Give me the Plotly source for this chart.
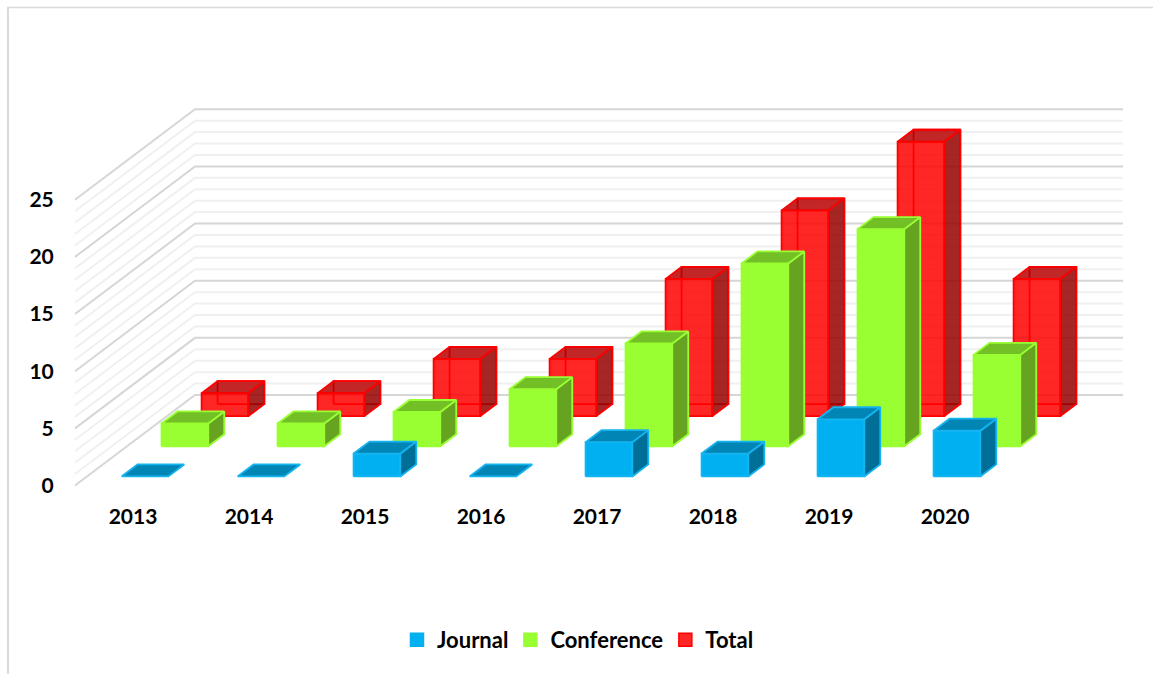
import plotly.graph_objects as go

# ---- data ----
years = ["2013", "2014", "2015", "2016", "2017", "2018", "2019", "2020"]
journal = [0, 0, 2, 0, 3, 2, 5, 4]
conference = [2, 2, 3, 5, 9, 16, 19, 8]
total = [2, 2, 5, 5, 12, 18, 24, 12]
value_ticks = [0, 5, 10, 15, 20, 25]
minor_step = 1
value_max = 25

# ---- oblique projection, in axis units ----
PX_X = 116.0      # pixels per category
PX_Y = 11.43      # pixels per value unit
ORG_X = 75.0      # pixel position of category 0 at the front
ORG_Y = 485.5     # pixel position of value 0 at the front
DEPTH_X = 120.0 / PX_X
DEPTH_Y = 90.5 / PX_Y
BAR_LEFT = 0.298
BAR_W = 0.403
BAR_D = 0.133
L, B = 61, 178
W, H = 1153, 674


def proj(c, d, v):
    return c + d * DEPTH_X, v + d * DEPTH_Y


def poly(points):
    xs, ys = [], []
    for p in points:
        x, y = proj(*p)
        xs.append(x)
        ys.append(y)
    x0, y0 = proj(*points[0])
    return xs + [x0, None], ys + [y0, None]


def faces(values, depth):
    out = {"back": ([], []), "front": ([], []), "side": ([], []), "top": ([], [])}
    for i, v in enumerate(values):
        c0 = i + BAR_LEFT
        c1 = c0 + BAR_W
        d0 = depth
        d1 = depth + BAR_D
        shapes = {
            "back": [(c0, d1, 0), (c1, d1, 0), (c1, d1, v), (c0, d1, v)],
            "front": [(c0, d0, 0), (c1, d0, 0), (c1, d0, v), (c0, d0, v)],
            "side": [(c1, d0, 0), (c1, d1, 0), (c1, d1, v), (c1, d0, v)],
            "top": [(c0, d0, v), (c1, d0, v), (c1, d1, v), (c0, d1, v)],
        }
        for name, pts in shapes.items():
            if v == 0 and name != "top":
                continue
            xs, ys = poly(pts)
            out[name][0].extend(xs)
            out[name][1].extend(ys)
    return out


fig = go.Figure()

# gridlines: front edge -> back wall -> right end
for v in range(0, value_max + 1, minor_step):
    major = v % 5 == 0
    pts = [proj(0, 0, v), proj(0, 1, v), proj(len(years), 1, v)]
    fig.add_trace(go.Scatter(
        x=[p[0] for p in pts], y=[p[1] for p in pts], mode="lines",
        line=dict(color="#D6D6D6" if major else "#F0F0F0", width=2, simplify=False),
        showlegend=False, hoverinfo="skip"))

series = [
    ("Total", total, 0.767, "#FF0000", "rgba(255,0,0,0.85)", "rgba(150,0,0,0.85)", "rgba(185,0,0,0.85)"),
    ("Conference", conference, 0.433, "#99FF33", "#99FF33", "#66A321", "#73BF26"),
    ("Journal", journal, 0.1, "#14B4F0", "#00B0F0", "#006F98", "#0085B5"),
]

for name, vals, depth, edge, front, side, top in series:
    f = faces(vals, depth)
    if name == "Total":
        fig.add_trace(go.Scatter(x=f["back"][0], y=f["back"][1], mode="lines",
                                 line=dict(color=edge, width=1.8),
                                 showlegend=False, hoverinfo="skip"))
    for key, col in (("front", front), ("side", side), ("top", top)):
        if not f[key][0]:
            continue
        fig.add_trace(go.Scatter(x=f[key][0], y=f[key][1], mode="lines", fill="toself",
                                 fillcolor=col, line=dict(color=edge, width=1.8),
                                 showlegend=False, hoverinfo="skip"))

# legend entries
for name, col, edge in (("Journal", "#00B0F0", "#00B0F0"),
                        ("Conference", "#99FF33", "#99FF33"),
                        ("Total", "rgba(255,38,38,1)", "#FF0000")):
    fig.add_trace(go.Scatter(x=[None], y=[None], mode="markers", name=name,
                             marker=dict(symbol="square", size=13, color=col,
                                         line=dict(color=edge, width=1.5))))

font = dict(family="Lato", size=21, color="#000000", weight=700)
legend_font = dict(family="Lato", size=22, color="#000000", weight=700)


def px_to_paper_x(px):
    return (px - L) / (W - L)


def px_to_paper_y(py):
    return (H - B - py) / (H - B)


fig.update_layout(
    width=W, height=H, autosize=False,
    margin=dict(l=L, r=0, t=0, b=B, pad=0),
    paper_bgcolor="white", plot_bgcolor="white",
    font=font,
    xaxis=dict(range=[(L - ORG_X) / PX_X, (W - ORG_X) / PX_X],
               tickvals=[i + 0.5 for i in range(len(years))], ticktext=years,
               showgrid=False, zeroline=False, showline=False, ticks="outside",
               ticklen=2, tickcolor="rgba(0,0,0,0)", tickfont=font),
    yaxis=dict(range=[(ORG_Y - (H - B)) / PX_Y, ORG_Y / PX_Y],
               tickvals=value_ticks, ticktext=[str(v) for v in value_ticks],
               showgrid=False, zeroline=False, showline=False, ticks="outside",
               ticklen=2, tickcolor="rgba(0,0,0,0)", tickfont=font),
    legend=dict(orientation="h", x=px_to_paper_x(400), xanchor="left",
                y=px_to_paper_y(640), yanchor="middle", font=legend_font,
                bgcolor="rgba(0,0,0,0)", traceorder="normal", indentation=-3),
    shapes=[
        dict(type="line", xref="paper", yref="paper", line=dict(color="#DADADA", width=2),
             x0=px_to_paper_x(8), x1=px_to_paper_x(8), y0=px_to_paper_y(7), y1=px_to_paper_y(674)),
        dict(type="line", xref="paper", yref="paper", line=dict(color="#DADADA", width=1.3),
             x0=px_to_paper_x(7), x1=px_to_paper_x(1153), y0=px_to_paper_y(7.5), y1=px_to_paper_y(7.5)),
    ],
)

fig.write_html("out.html", config=dict(displayModeBar=False),
               post_script="document.body.style.margin='0';")
